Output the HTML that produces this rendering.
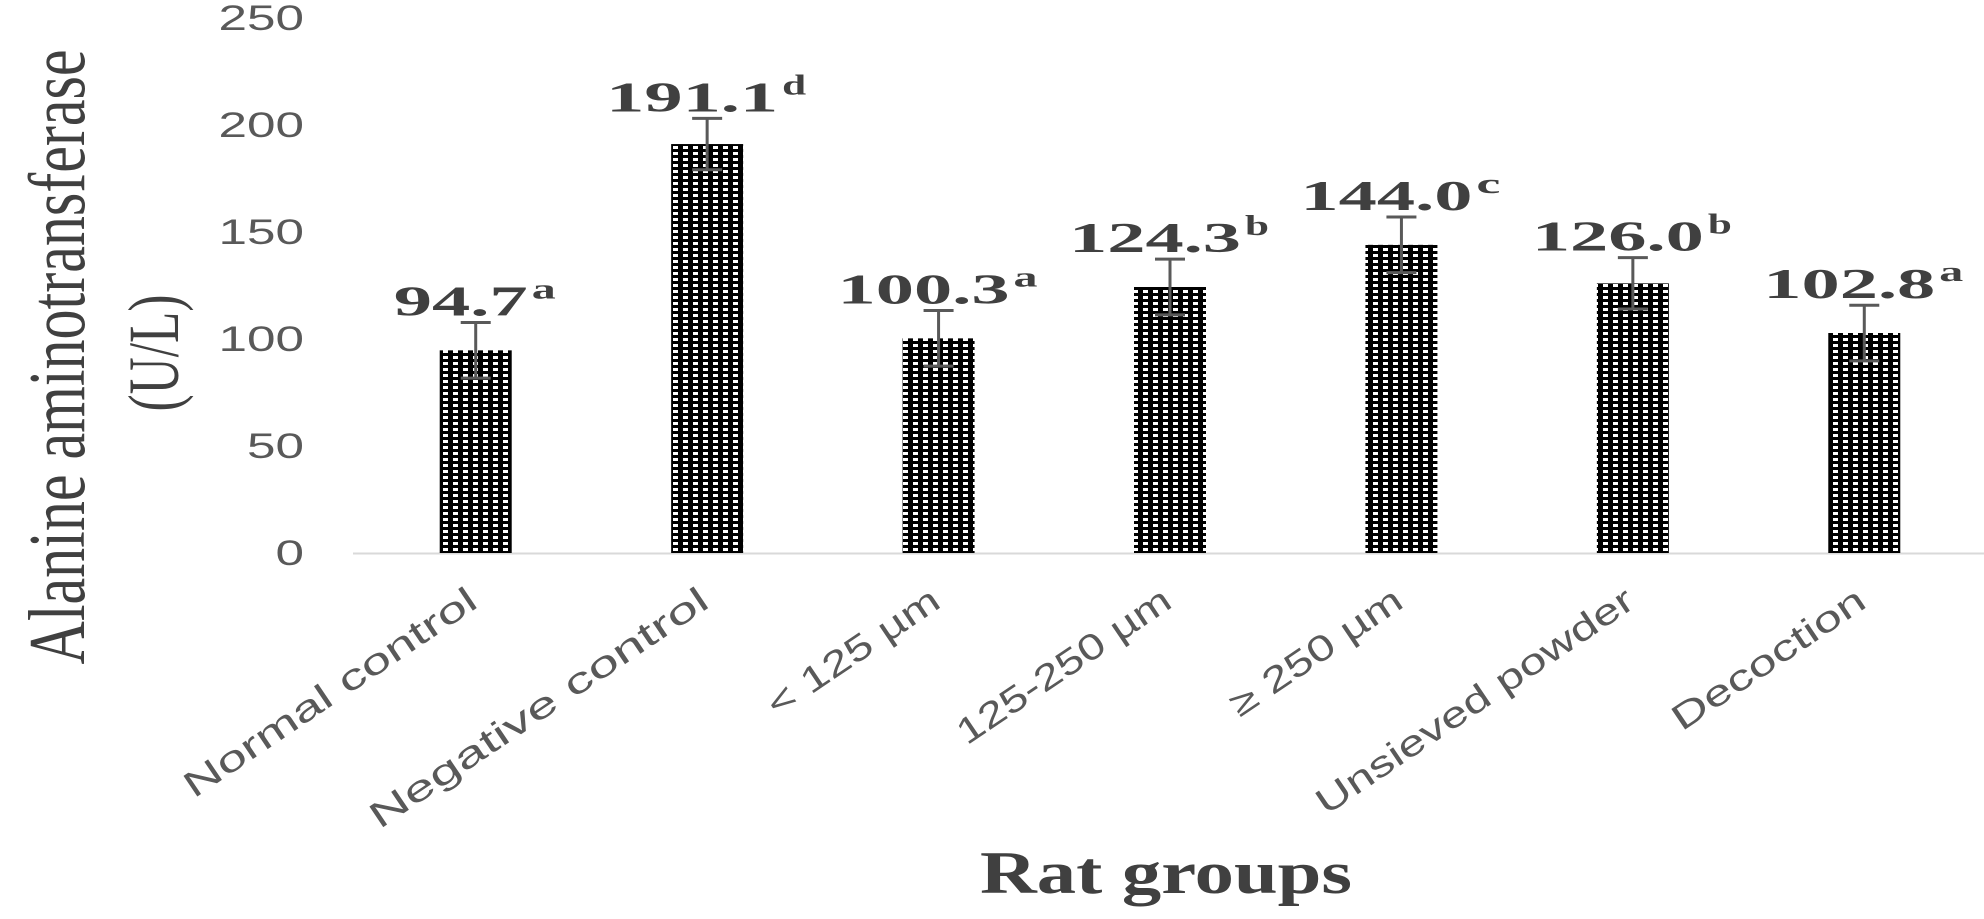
<!DOCTYPE html>
<html><head><meta charset="utf-8"><style>
html,body{margin:0;padding:0;background:#fff;}
svg{display:block;}
</style></head><body>
<svg id="chart" width="1984" height="919" viewBox="0 0 1984 919" xmlns="http://www.w3.org/2000/svg">
<defs>
<pattern id="dots" patternUnits="userSpaceOnUse" width="10" height="6">
<rect width="10" height="6" fill="#000"/>
<rect x="3" y="2" width="5" height="3" fill="#fff"/>
</pattern>
</defs>
<text transform="translate(84,357) rotate(-90)" text-anchor="middle" font-family="Liberation Serif, serif" font-size="80" fill="#404040" textLength="615" lengthAdjust="spacingAndGlyphs">Alanine  aminotransferase</text>
<text transform="translate(178,353) rotate(-90)" text-anchor="middle" font-family="Liberation Serif, serif" font-size="72" fill="#404040" textLength="117" lengthAdjust="spacingAndGlyphs">(U/L)</text>
<text x="1166" y="893" text-anchor="middle" font-family="Liberation Serif, serif" font-weight="bold" font-size="60" fill="#404040" textLength="372" lengthAdjust="spacingAndGlyphs">Rat groups</text>
<line x1="353" y1="553.5" x2="1984" y2="553.5" stroke="#d9d9d9" stroke-width="2"/>
<g id="yticks"></g>
<g id="bars"></g>
<g id="cats"></g>
</svg>
<script>
const categories = ["Normal control", "Negative control", "< 125 µm", "125-250 µm", "≥ 250 µm", "Unsieved powder", "Decoction"];
const values = [94.7, 191.1, 100.3, 124.3, 144.0, 126.0, 102.8];
const errors = [13, 12, 13, 13, 13, 12, 13];
const letters = ["a", "d", "a", "b", "c", "b", "a"];
const valueLabels = ["94.7", "191.1", "100.3", "124.3", "144.0", "126.0", "102.8"];
const yTicks = [0, 50, 100, 150, 200, 250];

const NS = "http://www.w3.org/2000/svg";
const Y0 = 553, PXU = 2.14, XL = 360, XR = 1980;
function yScale(v){ return Y0 - v * PXU; }
function xCenter(i){ const bw = (XR - XL) / categories.length; return XL + (i + 0.5) * bw; }
function mk(tag, attrs){ const e = document.createElementNS(NS, tag); for (const k in attrs) e.setAttribute(k, attrs[k]); return e; }

const gy = document.getElementById("yticks");
yTicks.forEach(t => {
  const s = String(t);
  const el = mk("text", {x: 304, y: yScale(t) + 12, "text-anchor": "end", "font-family": "Liberation Sans, sans-serif", "font-size": 35, fill: "#595959", textLength: s.length * 28.5, lengthAdjust: "spacingAndGlyphs"});
  
  
  el.textContent = s;
  gy.appendChild(el);
});

const gb = document.getElementById("bars");
values.forEach((v, i) => {
  const cx = xCenter(i), bw = 72;
  const r = mk("rect", {x: cx - bw/2, y: yScale(v), width: bw, height: Y0 - yScale(v), fill: "url(#dots)"});
  
  
  gb.appendChild(r);
  const top = yScale(v + errors[i]), bot = yScale(v - errors[i]);
  const eb = mk("path", {d: `M${cx} ${top}V${bot}M${cx-15} ${top}H${cx+15}M${cx-15} ${bot}H${cx+15}`, stroke: "#595959", "stroke-width": 3, fill: "none"});
  
  
  gb.appendChild(eb);
  const lab = valueLabels[i];
  const numLen = (lab.length - 1) * 38 + 20;
  const total = numLen + 30;
  const x0 = cx - total / 2, base = top - 7;
  const t = mk("text", {x: x0, y: base, "font-family": "Liberation Serif, serif", "font-weight": "bold", "font-size": 42, fill: "#404040", textLength: numLen, lengthAdjust: "spacingAndGlyphs"});
  
  
  t.textContent = lab;
  gb.appendChild(t);
  const sup = mk("text", {x: x0 + numLen + 4, y: base - 17, "font-family": "Liberation Serif, serif", "font-weight": "bold", "font-size": 28, fill: "#404040", textLength: 24, lengthAdjust: "spacingAndGlyphs"});
  
  
  sup.textContent = letters[i];
  gb.appendChild(sup);
});

const gc = document.getElementById("cats");
categories.forEach((c, i) => {
  const cx = xCenter(i);
  const len = c === "Normal control" ? 345 : c.length * 25;
  const el = mk("text", {transform: `translate(${cx + 4},606) rotate(-34)`, "text-anchor": "end", "font-family": "Liberation Sans, sans-serif", "font-size": 36, fill: "#595959", textLength: len, lengthAdjust: "spacingAndGlyphs"});
  
  
  el.textContent = c;
  gc.appendChild(el);
});
</script>
</body></html>
